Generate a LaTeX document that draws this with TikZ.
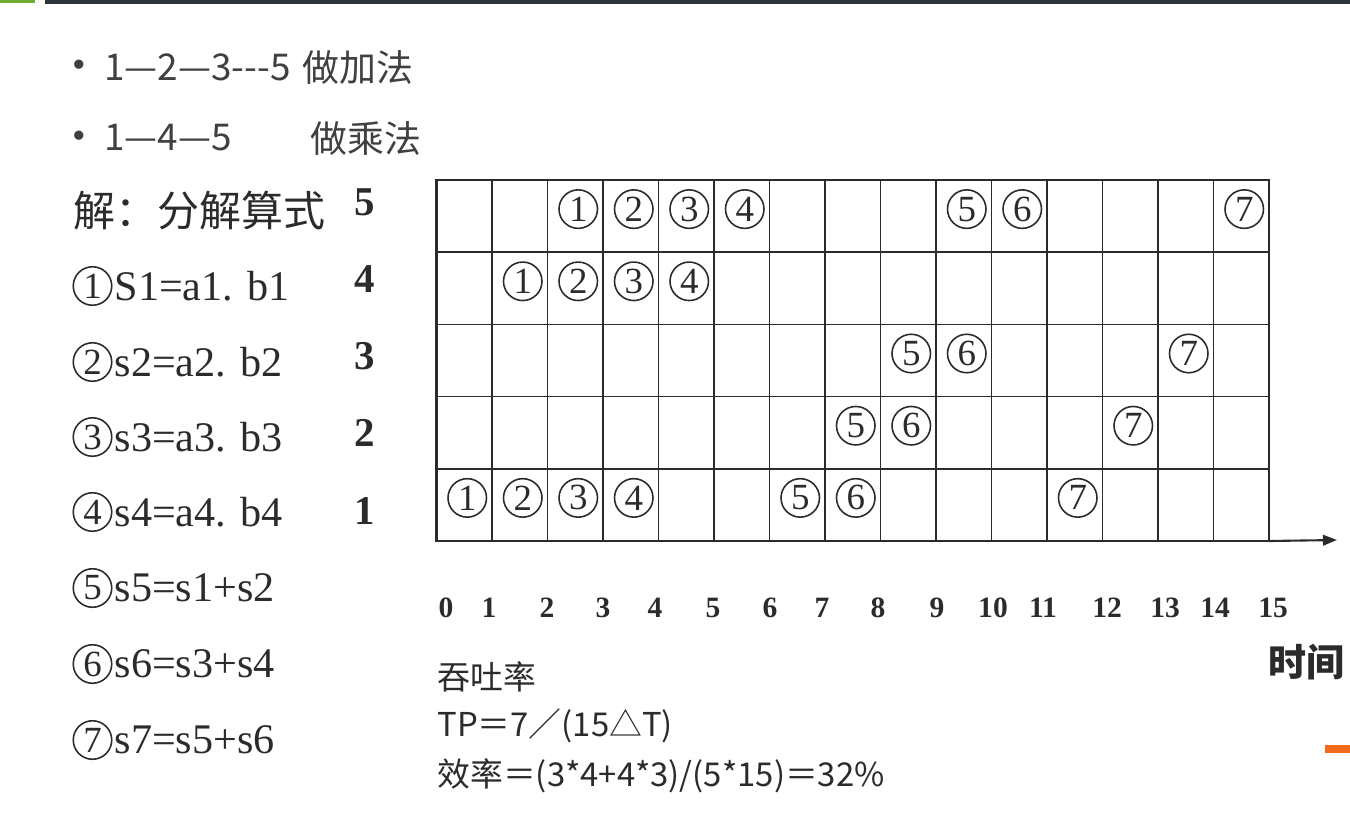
\documentclass[tikz,border=0pt]{standalone}
\usepackage{fontspec}
\setmainfont{Liberation Serif}
\newfontfamily\cjk{Noto Sans CJK SC}
\usetikzlibrary{positioning,arrows.meta}
\definecolor{ink}{HTML}{2B2B2B}
\definecolor{slidegray}{HTML}{404040}
\definecolor{barGreen}{HTML}{6DAE2E}
\definecolor{barDark}{HTML}{2E3338}
\definecolor{barOrange}{HTML}{F26A1B}

\begin{document}
\begin{tikzpicture}[
  x=0.02cm, y=-0.02cm,
  bullet/.style={anchor=west, inner sep=0pt, text=slidegray, font=\cjk\fontsize{21pt}{25pt}\selectfont},
  dot/.style={inner sep=0pt, text=slidegray, font=\fontsize{22pt}{25pt}\selectfont},
  note/.style={anchor=west, inner sep=0pt, text=ink, font=\cjk\fontsize{18.7pt}{23pt}\selectfont},
  cnum/.style={circle, draw=ink, line width=0.9pt, minimum size=0.77cm, inner sep=0pt, text=ink, font=\fontsize{21pt}{22pt}\selectfont},
  expr/.style={inner sep=0pt, text=ink, font=\fontsize{24pt}{28pt}\selectfont},
  seg/.style={inner sep=0pt, text=ink, font=\bfseries\fontsize{23.3pt}{26pt}\selectfont},
  timelbl/.style={inner sep=0pt, text=ink, font=\bfseries\fontsize{16.8pt}{18pt}\selectfont},
  cell/.style={draw=ink, line width=0.9pt},
  gridframe/.style={draw=ink, line width=1.4pt},
  timeaxis/.style={-{Triangle[length=8pt,width=6pt]}, draw=ink, line width=1.2pt}
]
\useasboundingbox (0,0) rectangle (1350,816);

% slide decoration
\fill[barGreen] (0,0) rectangle (35,3);
\fill[barDark] (45,0) rectangle (1350,3.5);
\fill[barOrange] (1325,745) rectangle (1350,753);

% bullet lines
\node[dot] (d1) at (79,69) {•};
\node[bullet] (b1) at (104,67) {1—2—3---5};
\node[bullet] (add) at (302,67) {做加法};
\node[dot] (d2) at (79,140) {•};
\node[bullet] (b2) at (104,138) {1—4—5};
\node[bullet] (mul) at (310,138) {做乘法};

% decomposition
\node[expr, anchor=west, font=\cjk\fontsize{23.9pt}{28pt}\selectfont] (sol) at (73,210) {解：分解算式};
\node[cnum] (e1n) at (92.5,286) {1};
\node[expr, right=1pt of e1n] (e1) {S1=a1. b1};
\node[cnum] (e2n) at (92.5,362) {2};
\node[expr, right=1pt of e2n] (e2) {s2=a2. b2};
\node[cnum] (e3n) at (92.5,437) {3};
\node[expr, right=1pt of e3n] (e3) {s3=a3. b3};
\node[cnum] (e4n) at (92.5,512) {4};
\node[expr, right=1pt of e4n] (e4) {s4=a4. b4};
\node[cnum] (e5n) at (92.5,588) {5};
\node[expr, right=1pt of e5n] (e5) {s5=s1+s2};
\node[cnum] (e6n) at (92.5,664) {6};
\node[expr, right=1pt of e6n] (e6) {s6=s3+s4};
\node[cnum] (e7n) at (92.5,740) {7};
\node[expr, right=1pt of e7n] (e7) {s7=s5+s6};

% stage numbers
\node[seg] (seg5) at (365,202) {5};
\node[seg] (seg4) at (365,279) {4};
\node[seg] (seg3) at (365,356) {3};
\node[seg] (seg2) at (365,433) {2};
\node[seg] (seg1) at (365,511) {1};

% space-time grid
\coordinate (gtl) at (436.5,180);
\coordinate (gbr) at (1269,541);
\foreach \i in {1,...,14}
  \draw[cell] ({436.5+55.5*\i},180) -- ({436.5+55.5*\i},541);
\foreach \j in {1,...,4}
  \draw[cell] (436.5,{180+72.2*\j}) -- (1269,{180+72.2*\j});
\draw[gridframe] (gtl) rectangle (gbr);

\foreach \c/\r/\n in {2/0/1,3/0/2,4/0/3,5/0/4,9/0/5,10/0/6,14/0/7,
                      1/1/1,2/1/2,3/1/3,4/1/4,
                      8/2/5,9/2/6,13/2/7,
                      7/3/5,8/3/6,12/3/7,
                      0/4/1,1/4/2,2/4/3,3/4/4,6/4/5,7/4/6,11/4/7}
  \node[cnum] (op-\r-\c) at ({467.25+55.5*\c},{209.1+72.2*\r}) {\n};

% time axis
\coordinate (tip) at (1337,540);
\draw[timeaxis] (gbr) -- (tip);
\foreach \x/\t in {446/0,489/1,547/2,603/3,655/4,713/5,770/6,822/7,878/8,
                   937/9,993/10,1043/11,1107/12,1165/13,1215/14,1273/15}
  \node[timelbl] (t\t) at (\x,608) {\t};
\node[note, anchor=center, font=\cjk\bfseries\fontsize{21.6pt}{25pt}\selectfont] (time) at (1306,662) {时间};

% throughput and efficiency
\node[note] (thr) at (437,677) {吞吐率};
\node[note] (tp) at (437,726) {TP＝7／(15△T)};
\node[note] (eff) at (437,776) {效率＝(3*4+4*3)/(5*15)＝32\%};
\end{tikzpicture}
\end{document}
